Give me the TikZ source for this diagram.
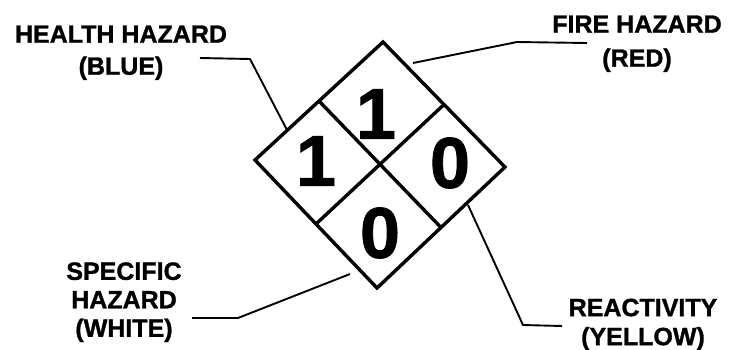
\documentclass[tikz,border=0pt]{standalone}
\usepackage{fontspec}
\setmainfont{Liberation Sans}[BoldFeatures={FakeBold=1.2}]
\usetikzlibrary{calc}
\begin{document}
\begin{tikzpicture}[x=1pt,y=-1pt,
  frame/.style={line width=3.4pt,line join=miter},
  leader/.style={line width=1.9pt,line join=miter},
  digit/.style={inner sep=0pt,font=\fontsize{72}{72}\selectfont\bfseries},
  label/.style={inner sep=0pt,align=center}]
\useasboundingbox (0,0) rectangle (730,349);
% diamond vertices
\coordinate (T) at (383,42);
\coordinate (R) at (505,167);
\coordinate (B) at (377,288);
\coordinate (L) at (255,160);
\draw[frame] (T) -- (R) -- (B) -- (L) -- cycle;
\draw[frame] ($(T)!0.5!(L)$) -- ($(R)!0.5!(B)$);
\draw[frame] ($(T)!0.5!(R)$) -- ($(L)!0.5!(B)$);
% digits
\node[digit] (fire)  at (376,114) {1};
\node[digit] (health) at (316,161) {1};
\node[digit] (react) at (450,163) {0};
\node[digit] (spec)  at (380,233) {0};
% labels
\node[label,font=\fontsize{25}{32}\selectfont\bfseries] (lhealth) at (121,52.7) {HEALTH HAZARD\\(BLUE)};
\node[label,font=\fontsize{25}{34}\selectfont\bfseries] (lfire) at (637,43.7) {FIRE HAZARD\\(RED)};
\node[label,font=\fontsize{25}{28.5}\selectfont\bfseries] (lspec) at (124,302.2) {SPECIFIC\\HAZARD\\(WHITE)};
\node[label,font=\fontsize{25}{29}\selectfont\bfseries] (lreact) at (643,324.5) {REACTIVITY\\(YELLOW)};
% leader lines
\coordinate (h1) at (200,58);
\coordinate (h2) at (250,59);
\coordinate (h3) at (287,130);
\draw[leader] (h1) -- (h2) -- (h3);
\coordinate (f1) at (413,63);
\coordinate (f2) at (517,42);
\coordinate (f3) at (587,43);
\draw[leader] (f1) -- (f2) -- (f3);
\coordinate (s1) at (192,318);
\coordinate (s2) at (238,318);
\coordinate (s3) at (350,274);
\draw[leader] (s1) -- (s2) -- (s3);
\coordinate (r1) at (468,205);
\coordinate (r2) at (523,325);
\coordinate (r3) at (562,326);
\draw[leader] (r1) -- (r2) -- (r3);
\end{tikzpicture}
\end{document}
